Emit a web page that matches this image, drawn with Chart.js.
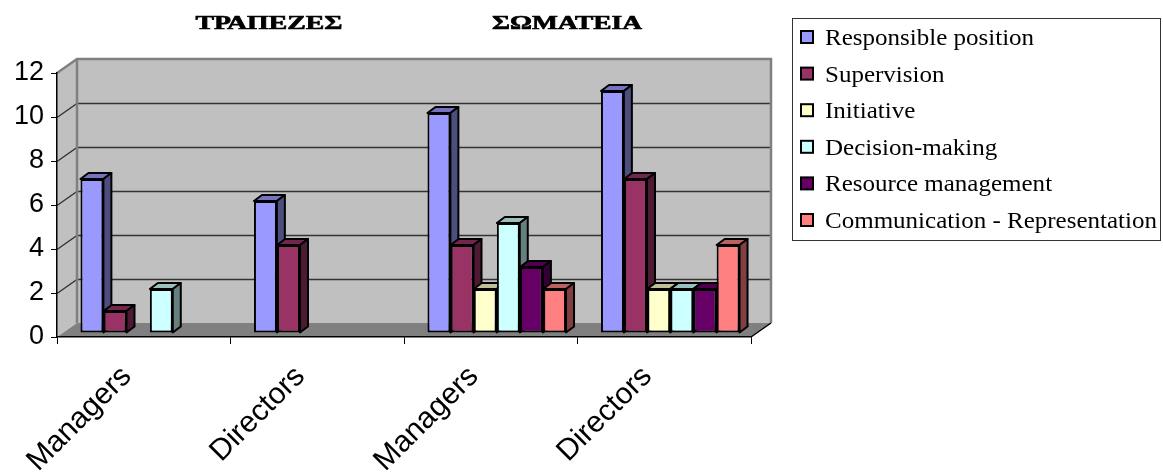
<!DOCTYPE html>
<html>
<head>
<meta charset="utf-8">
<script src="https://cdn.jsdelivr.net/npm/chart.js@4/dist/chart.umd.min.js"></script>
<style>
  html, body { margin: 0; padding: 0; background: #fff; }
  canvas { display: block; }
</style>
</head>
<body>
<canvas id="chart" width="1163" height="474"></canvas>
<script>
// ---- data ----
const categories = ['Managers', 'Directors', 'Managers', 'Directors'];
const groupTitles = ['ΤΡΑΠΕΖΕΣ', 'ΣΩΜΑΤΕΙΑ'];
const seriesNames = ['Responsible position', 'Supervision', 'Initiative', 'Decision-making', 'Resource management', 'Communication - Representation'];
const responsiblePosition = [7, 6, 10, 11];
const supervision = [1, 4, 4, 7];
const initiative = [0, 0, 2, 2];
const decisionMaking = [2, 0, 5, 2];
const resourceManagement = [0, 0, 3, 2];
const communication = [0, 0, 2, 4];
const yTicks = [0, 2, 4, 6, 8, 10, 12];
const seriesColors = ['#9999FF', '#993366', '#FFFFCC', '#CCFFFF', '#660066', '#FF8080'];

const seriesValues = [responsiblePosition, supervision, initiative, decisionMaking, resourceManagement, communication];

// ---- 3D look ----
const WALL_DEPTH = { x: 20, y: 14 };   // depth of floor / side wall
const BAR_SHIFT = { x: 6, y: 4 };      // bars stand in the middle of the depth
const BAR_DEPTH = { x: 8, y: 6 };      // visible depth of each column

function shade(hex, f) {
  const n = parseInt(hex.slice(1), 16);
  const r = Math.round(((n >> 16) & 255) * f);
  const g = Math.round(((n >> 8) & 255) * f);
  const b = Math.round((n & 255) * f);
  return `rgb(${r},${g},${b})`;
}

function poly(ctx, pts, fill, stroke, lw) {
  ctx.beginPath();
  ctx.moveTo(pts[0][0], pts[0][1]);
  for (let i = 1; i < pts.length; i++) ctx.lineTo(pts[i][0], pts[i][1]);
  ctx.closePath();
  if (fill) { ctx.fillStyle = fill; ctx.fill(); }
  if (stroke) { ctx.strokeStyle = stroke; ctx.lineWidth = lw || 1; ctx.stroke(); }
}

// walls, floor and wall gridlines
const frame3d = {
  id: 'frame3d',
  beforeDraw(chart) {
    const { ctx, chartArea: a } = chart;
    const yScale = chart.scales.y;
    const L = a.left, R = a.right, T = a.top, B = a.bottom;
    const dx = WALL_DEPTH.x, dy = WALL_DEPTH.y;
    ctx.save();
    ctx.fillStyle = '#ffffff';
    ctx.fillRect(0, 0, chart.width, chart.height);

    // back wall
    ctx.fillStyle = '#C0C0C0';
    ctx.fillRect(L + dx, T - dy, R - L, B - T);
    // side wall
    poly(ctx, [[L, T], [L + dx, T - dy], [L + dx, B - dy], [L, B]], '#C0C0C0');
    // floor
    poly(ctx, [[L, B], [L + dx, B - dy], [R + dx, B - dy], [R, B]], '#808080');

    // gridlines on side wall and back wall
    ctx.strokeStyle = '#333333';
    ctx.lineWidth = 1.3;
    yTicks.forEach(v => {
      if (v === yTicks[0] || v === yTicks[yTicks.length - 1]) return;
      const yp = Math.round(yScale.getPixelForValue(v)) + 0.5;
      ctx.beginPath();
      ctx.moveTo(L, yp);
      ctx.lineTo(L + dx, yp - dy);
      ctx.lineTo(R + dx, yp - dy);
      ctx.stroke();
    });

    // wall edges
    ctx.strokeStyle = '#808080';
    ctx.lineWidth = 2.5;
    ctx.beginPath();
    ctx.moveTo(L, T);
    ctx.lineTo(L + dx, T - dy);
    ctx.lineTo(R + dx, T - dy);
    ctx.lineTo(R + dx, B - dy);
    ctx.moveTo(L + dx, T - dy);
    ctx.lineTo(L + dx, B - dy);
    ctx.stroke();

    // floor side edge
    ctx.strokeStyle = '#000000';
    ctx.lineWidth = 1.5;
    ctx.beginPath();
    ctx.moveTo(R, B);
    ctx.lineTo(R + dx, B - dy);
    ctx.stroke();
    ctx.restore();
  }
};

// top and side faces of the columns; the library then paints the front faces on top
const columns3d = {
  id: 'columns3d',
  beforeDatasetsDraw(chart) {
    const ctx = chart.ctx;
    ctx.save();
    ctx.translate(BAR_SHIFT.x, -BAR_SHIFT.y);
    const bx = BAR_DEPTH.x, by = BAR_DEPTH.y;
    chart.data.datasets.forEach((ds, di) => {
      const meta = chart.getDatasetMeta(di);
      meta.data.forEach((bar, i) => {
        if (!ds.data[i]) return;
        const { x, y, base, width } = bar.getProps(['x', 'y', 'base', 'width'], true);
        const l = x - width / 2, r = x + width / 2;
        ctx.lineJoin = 'round';
        poly(ctx, [[l, y], [l + bx, y - by], [r + bx, y - by], [r, y]], shade(ds.backgroundColor, 0.75), '#000', 2);
        poly(ctx, [[r, y], [r + bx, y - by], [r + bx, base - by], [r, base]], shade(ds.backgroundColor, 0.5), '#000', 2);
      });
    });
  },
  afterDatasetsDraw(chart) {
    chart.ctx.restore();
  }
};

// group titles and boxed legend
const annotations = {
  id: 'annotations',
  afterDraw(chart) {
    const ctx = chart.ctx;
    ctx.save();
    ctx.fillStyle = '#000';
    ctx.textBaseline = 'alphabetic';

    // group titles, each centred over its pair of categories
    const titleWidths = [147, 150];
    const titleCenters = [269, 567];
    ctx.font = 'bold 18px "Liberation Serif"';
    groupTitles.forEach((t, i) => {
      const w = ctx.measureText(t).width;
      const sx = titleWidths[i] / w;
      ctx.save();
      ctx.translate(titleCenters[i] - titleWidths[i] / 2, 29);
      ctx.scale(sx, 1);
      ctx.textAlign = 'left';
      ctx.fillText(t, 0, 0);
      ctx.strokeStyle = '#000';
      ctx.lineWidth = 0.6;
      ctx.strokeText(t, 0, 0);
      ctx.restore();
    });

    // legend box
    const box = { l: 792.5, t: 18.5, r: 1160.5, b: 240.5 };
    ctx.strokeStyle = '#333';
    ctx.lineWidth = 1;
    ctx.strokeRect(box.l, box.t, box.r - box.l, box.b - box.t);

    ctx.font = '24px "Liberation Serif"';
    const longest = seriesNames.reduce((m, s) => Math.max(m, ctx.measureText(s).width), 0);
    const sx = 332 / longest;
    chart.data.datasets.forEach((ds, i) => {
      const cy = 37 + i * 36.6;
      ctx.fillStyle = ds.backgroundColor;
      ctx.fillRect(801, cy - 6, 12, 12);
      ctx.strokeStyle = '#000';
      ctx.lineWidth = 2;
      ctx.strokeRect(801, cy - 6, 12, 12);
      ctx.fillStyle = '#000';
      ctx.save();
      ctx.translate(825, cy + 8);
      ctx.scale(sx, 1);
      ctx.fillText(ds.label, 0, 0);
      ctx.restore();
    });
    ctx.restore();
  }
};

const datasets = seriesNames.map((name, i) => ({
  label: name,
  data: seriesValues[i],
  backgroundColor: seriesColors[i],
  borderColor: '#000000',
  borderWidth: c => (c.raw ? 2 : 0),
  borderSkipped: false,
  categoryPercentage: 0.8,
  barPercentage: 0.99,
  clip: false
}));

new Chart(document.getElementById('chart'), {
  type: 'bar',
  data: { labels: categories, datasets },
  options: {
    responsive: false,
    animation: false,
    devicePixelRatio: 1,
    layout: { padding: { top: 73, right: 412, bottom: 0, left: 0 } },
    plugins: {
      legend: { display: false },
      title: { display: false },
      tooltip: { enabled: false }
    },
    scales: {
      x: {
        offset: true,
        afterFit(s) { s.height = 137; s.paddingLeft = 0; s.paddingRight = 0; },
        grid: { offset: true, drawOnChartArea: false, drawTicks: true, tickLength: 7, color: '#000', lineWidth: 1 },
        border: { display: true, color: '#000', width: 1.5 },
        ticks: {
          autoSkip: false,
          minRotation: 45,
          maxRotation: 45,
          labelOffset: -17,
          padding: 15,
          color: '#000',
          font: { family: '"Liberation Sans"', size: 30 }
        }
      },
      y: {
        min: yTicks[0],
        max: yTicks[yTicks.length - 1],
        afterFit(s) { s.width = 57; },
        afterBuildTicks(s) { s.ticks = yTicks.map(v => ({ value: v })); },
        grid: { drawOnChartArea: false, drawTicks: true, tickLength: 6, color: '#000', lineWidth: 1 },
        border: { display: true, color: '#000', width: 1.5 },
        ticks: {
          padding: 7,
          color: '#000',
          font: { family: '"Liberation Sans"', size: 27 }
        }
      }
    }
  },
  plugins: [frame3d, columns3d, annotations]
});
</script>
</body>
</html>
